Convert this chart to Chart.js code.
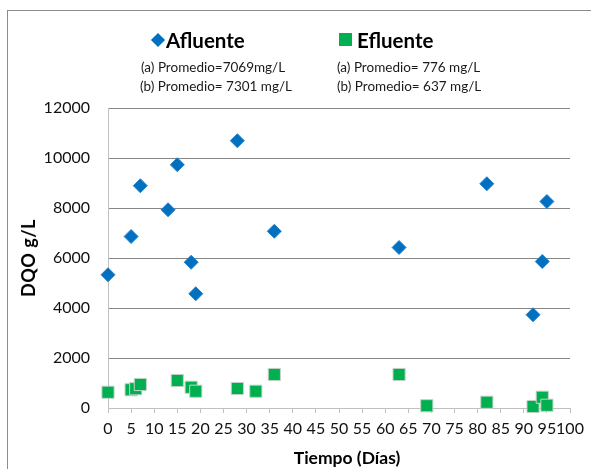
<!DOCTYPE html>
<html lang="es">
<head>
<meta charset="utf-8">
<title>DQO afluente y efluente</title>
<script src="https://cdn.jsdelivr.net/npm/chart.js@4.4.1/dist/chart.umd.min.js"></script>
<style>
  html, body { margin: 0; padding: 0; background: #ffffff; }
  #wrap { position: relative; width: 591px; height: 469px; overflow: hidden; font-family: Lato, "Open Sans", sans-serif; color: #000; }
  #frame { position: absolute; left: 7px; top: 10px; width: 600px; height: 480px; border: 1px solid #8c8c8c; box-sizing: border-box; }
  #chart { position: absolute; left: 0; top: 0; }
  .hdr { position: absolute; font-weight: 700; font-size: 20.5px; line-height: 20px; white-space: nowrap; }
  .sub { position: absolute; font-size: 13.5px; line-height: 14px; white-space: nowrap; color: #1a1a1a; }
  .mk { position: absolute; }
  #ytitle { position: absolute; font-weight: 700; font-size: 18px; letter-spacing: 0.5px; white-space: nowrap; transform: translate(-50%, -50%) rotate(-90deg); left: 28px; top: 258px; }
  #xtitle { position: absolute; font-weight: 700; font-size: 17.5px; white-space: nowrap; transform: translateX(-50%); left: 347px; top: 447px; }
</style>
</head>
<body>
<div id="wrap">
  <div id="frame"></div>
  <canvas id="chart" width="591" height="469"></canvas>

  <div class="mk" style="left:153px; top:35px; width:10px; height:10px; background:#0070C0; transform:rotate(45deg);"></div>
  <div class="hdr" style="left:166px; top:30px;">Afluente</div>
  <div class="sub" style="left:141px; top:60px;">(a) Promedio=7069mg/L</div>
  <div class="sub" style="left:140px; top:79px;">(b) Promedio= 7301 mg/L</div>

  <div class="mk" style="left:339px; top:33px; width:13px; height:13px; background:#00B050;"></div>
  <div class="hdr" style="left:357px; top:30px;">Efluente</div>
  <div class="sub" style="left:337px; top:60px;">(a) Promedio= 776 mg/L</div>
  <div class="sub" style="left:337px; top:79px;">(b) Promedio= 637 mg/L</div>

  <div id="ytitle">DQO g/L</div>
  <div id="xtitle">Tiempo (Días)</div>
</div>
<script>
// Demanda química de oxígeno medida en el afluente y el efluente
const afluenteDias = [0, 5, 7, 13, 15, 18, 19, 28, 36, 63, 82, 92, 94, 95];
const afluenteDQO  = [5330, 6860, 8890, 7930, 9730, 5830, 4570, 10690, 7070, 6420, 8970, 3730, 5860, 8260];

const efluenteDias = [0, 5, 6, 7, 15, 18, 19, 28, 32, 36, 63, 69, 82, 92, 94, 95];
const efluenteDQO  = [630, 730, 770, 940, 1100, 830, 670, 780, 670, 1340, 1340, 90, 230, 60, 430, 110];

const diasTicks = [0, 5, 10, 15, 20, 25, 30, 35, 40, 45, 50, 55, 60, 65, 70, 75, 80, 85, 90, 95, 100];
const dqoTicks  = [0, 2000, 4000, 6000, 8000, 10000, 12000];

const toPoints = (xs, ys) => xs.map((x, i) => ({ x: x, y: ys[i] }));

const tickFont = { family: 'Lato, "Open Sans", sans-serif', size: 16 };

new Chart(document.getElementById('chart'), {
  type: 'scatter',
  data: {
    datasets: [
      {
        label: 'Afluente',
        data: toPoints(afluenteDias, afluenteDQO),
        pointStyle: 'rectRot',
        pointRadius: 7,
        pointHoverRadius: 7,
        backgroundColor: '#0070C0',
        borderColor: '#2a80c8',
        borderWidth: 1,
        clip: false
      },
      {
        label: 'Efluente',
        data: toPoints(efluenteDias, efluenteDQO),
        pointStyle: 'rect',
        pointRadius: 8.6,
        pointHoverRadius: 8.6,
        backgroundColor: '#00B050',
        borderColor: '#c4d4c8',
        borderWidth: 1,
        clip: false
      }
    ]
  },
  options: {
    responsive: false,
    animation: false,
    layout: { padding: { top: 108, right: 21, bottom: 0, left: 0 } },
    plugins: { legend: { display: false }, tooltip: { enabled: false } },
    scales: {
      x: {
        type: 'linear',
        min: 0,
        max: 100,
        afterFit: (scale) => { scale.height = 61; },
        afterBuildTicks: (scale) => { scale.ticks = diasTicks.map(v => ({ value: v })); },
        ticks: {
          autoSkip: false,
          maxRotation: 0,
          minRotation: 0,
          padding: 6,
          color: '#111111',
          font: tickFont,
          callback: (v) => String(v)
        },
        grid: { drawOnChartArea: false, drawTicks: true, tickLength: 5, color: '#c0c0c0' },
        border: { color: '#c0c0c0', width: 1 }
      },
      y: {
        type: 'linear',
        min: 0,
        max: 12000,
        afterFit: (scale) => { scale.width = 108; },
        afterBuildTicks: (scale) => { scale.ticks = dqoTicks.map(v => ({ value: v })); },
        ticks: {
          padding: 18,
          color: '#111111',
          font: tickFont,
          callback: (v) => String(v)
        },
        grid: {
          drawTicks: false,
          color: (ctx) => (ctx.tick && ctx.tick.value === 0 ? '#c0c0c0' : '#878787'),
          lineWidth: 1
        },
        border: { color: '#c0c0c0', width: 1 }
      }
    }
  }
});
</script>
</body>
</html>
